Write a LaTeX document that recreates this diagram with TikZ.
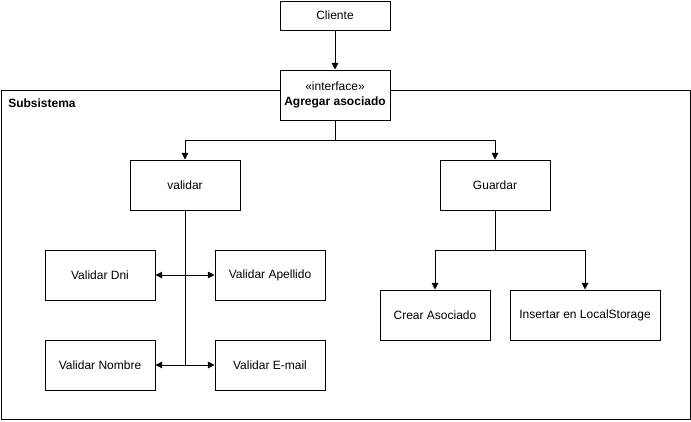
\documentclass[tikz,border=0pt]{standalone}
\usepackage{fontspec}
\setmainfont{Liberation Sans}
\usepackage{tikz}
\usetikzlibrary{arrows.meta,positioning,calc}

\begin{document}
\begin{tikzpicture}[
        x=0.75pt, y=-0.75pt,
        op_box/.style={
            rectangle,
            draw=black,
            fill=white,
            line width=0.75pt,
            minimum width=82.5pt,
            minimum height=37.5pt,
            inner sep=1pt,
            font=\fontsize{9}{11}\selectfont
        },
        link/.style={
            draw=black,
            line width=0.75pt
        },
        arrow_link/.style={
            link,
            -{Triangle[length=5pt,width=5pt]}
        },
        both_link/.style={
            link,
            {Triangle[length=5pt,width=5pt]}-{Triangle[length=5pt,width=5pt]}
        }
    ]
        \useasboundingbox (0,0) rectangle (691,421);

        % Frame
        \draw[link] (1,90) rectangle (690,419);
        \node[anchor=north west, inner sep=0pt, font=\fontsize{9}{11}\selectfont\bfseries] (frame_label) at (8,98.5) {Subsistema};

        % Nodes
        \node[op_box, minimum height=21.75pt] (cliente) at (335,15.5) {Cliente};
        \node[op_box, align=center] (iface) at (335,95) {«interface»\\\textbf{Agregar asociado}};
        \node[op_box] (validar) at (185,185) {validar};
        \node[op_box] (guardar) at (495,185) {Guardar};
        \node[op_box] (v_dni)  at (100,275) {Validar Dni};
        \node[op_box] (v_ape)  at (270,275) {Validar Apellido};
        \node[op_box] (v_nom)  at (100,365) {Validar Nombre};
        \node[op_box] (v_mail) at (270,365) {Validar E-mail};
        \node[op_box] (crear)  at (435,315) {Crear Asociado};
        \node[op_box, minimum width=112.5pt] (insert) at (585,315) {Insertar en LocalStorage};

        % Client to interface
        \draw[arrow_link] (cliente) -- (iface);

        % Interface split
        \draw[link] (iface.south) -- ++(0,20) coordinate (i_split);
        \draw[arrow_link] (i_split) -| (validar.north);
        \draw[arrow_link] (i_split) -| (guardar.north);

        % Validation branch
        \coordinate (v_end) at (validar.south |- v_nom.east);
        \draw[link] (validar.south) -- (v_end);
        \draw[both_link] (v_dni.east) -- (v_ape.west);
        \draw[both_link] (v_nom.east) -- (v_mail.west);

        % Save branch
        \draw[link] (guardar.south) -- ++(0,40) coordinate (g_split);
        \draw[arrow_link] (g_split) -| (crear.north);
        \draw[arrow_link] (g_split) -| (insert.north);
    \end{tikzpicture}
\end{document}
